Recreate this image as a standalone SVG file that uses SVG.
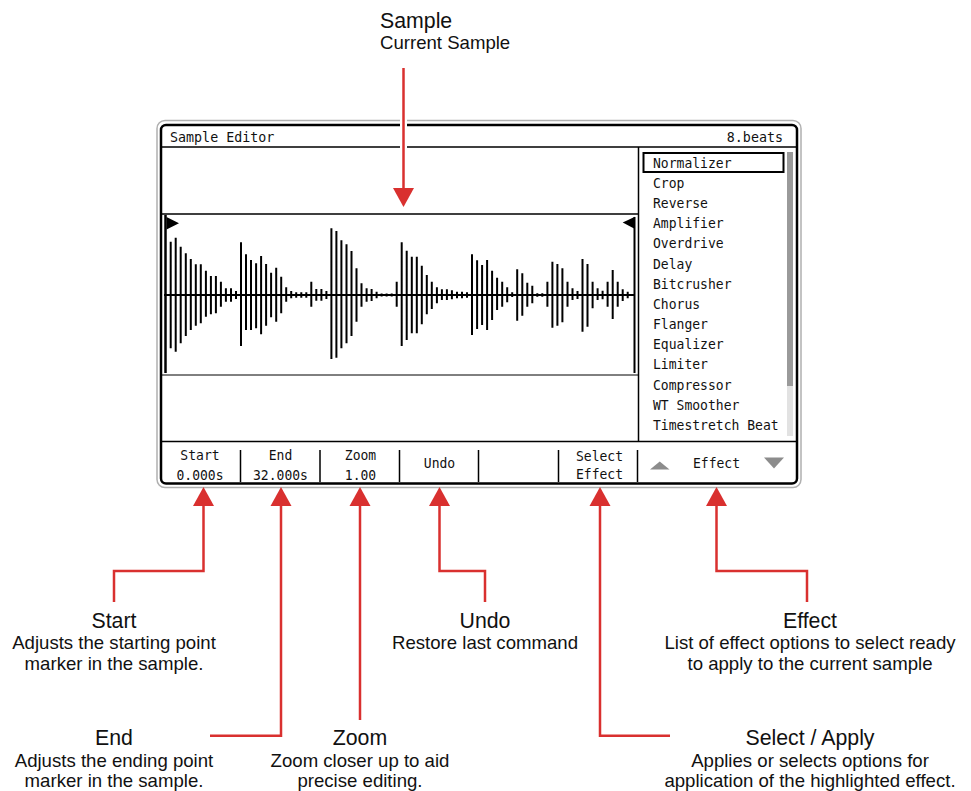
<svg xmlns="http://www.w3.org/2000/svg" width="971" height="791" viewBox="0 0 971 791">
<style>
.mono{font-family:"DejaVu Sans Mono","Liberation Mono",monospace;font-size:14.5px;fill:#111}
.mc{text-anchor:middle}
.h{font-family:"Liberation Sans",Arial,sans-serif;font-size:21.3px;fill:#111;text-anchor:middle}
.s{font-family:"Liberation Sans",Arial,sans-serif;font-size:18.6px;fill:#111;text-anchor:middle}
.ln{stroke:#000;fill:none}
.red{stroke:#d9302f;stroke-width:2.5;fill:none}
.head{fill:#d9302f}
.tri{fill:#8c8c8c}
</style>
<defs>
<polygon id="ah" points="-10.5,0 10.5,0 0,-19" class="head"/>
</defs>
<rect width="971" height="791" fill="#fff"/>
<g id="screen">
<rect x="157" y="120.5" width="644" height="367" rx="8" fill="#fff" stroke="#b0b0b0" stroke-width="1.5"/>
<rect x="161" y="125" width="636" height="358.5" rx="5" fill="none" stroke="#000" stroke-width="2.5"/>
<path class="ln" stroke-width="1.5" d="M161 147H797M638.5 147V441.5M161 214H638M161 441.5H797M240.5 450V482M320 450V482M399.5 450V482M478.5 450V482M558.5 450V482M637.5 450V482"/>
<path class="ln" stroke="#666" stroke-width="1" d="M161 375H638"/>
<g transform="translate(170,0) scale(0.92,1)"><text class="mono" x="0" y="142">Sample Editor</text></g>
<g transform="translate(783,0) scale(0.92,1)"><text class="mono" x="0" y="142" text-anchor="end">8.beats</text></g>
</g>
<g id="waveform">
<path class="ln" stroke-width="2.5" d="M165.5 215V373"/>
<path class="ln" stroke-width="2" d="M634.5 217V373M164 295H635"/>
<polygon points="166.5,217 179,223.3 166.5,229.5" fill="#000"/>
<polygon points="622.7,222.5 635,216.7 635,229" fill="#000"/>
<path class="ln" stroke-width="2" d="M170.7 241.7V348.3M175.7 237.7V351.7M180.7 246.7V343.3M185.8 253.3V336M190.8 259V330M195.8 264.3V325.7M200.8 264.3V323.3M205.9 270.7V316.7M210.9 276V314.3M215.9 276V313.3M220.9 281.7V306.7M225.9 288.3V301.7M231 288.3V301.7M236 291V299M241 242.3V346M246 254.3V330M251 260V330M256.1 263.3V328.3M261.1 256V334.3M266.1 264V325.7M271.1 272.7V317.3M276.2 267.7V321.7M281.2 276.7V313.3M286.2 287.3V301.7M291.2 291V298.3M296.2 292.3V297.7M301.3 292.3V297.7M306.3 292.3V297.7M311.3 281.7V306.7M316.3 289V300.7M321.4 289V300.7M326.4 291V299M331.4 228.3V359M336.4 231V357.7M341.4 240.3V348.3M346.5 244.3V343.3M351.5 251V336M356.5 268.3V321.7M361.5 283.3V306.7M366.6 288.3V301.7M371.6 289V301M376.6 291.7V298.3M381.6 293.5V296.5M386.6 293.5V296.5M391.7 293.5V296.5M396.7 281.7V306.7M401.7 242.3V346M406.7 250.7V340M411.8 256.7V333.3M416.8 256.7V333.3M421.8 265.7V324.3M426.8 275V314.3M431.8 281.7V309M436.9 287.3V303.3M441.9 289.3V300M446.9 289.3V300M451.9 290.3V299.3M457 291.7V298.3M462 291.7V298.3M467 292.3V297.7M472 254.3V335M477.1 260.3V329M482.1 265V325M487.1 260V330M492.1 270.7V320M497.1 277.7V310M502.2 281.7V306.7M507.2 287.3V302.3M512.2 292.3V297M517.2 269.3V320.7M522.3 273.3V315.7M527.3 282.7V306.7M532.3 285.7V303.3M537.3 293.3V296.7M542.3 293.3V296.7M547.4 281.7V306.7M552.4 261.7V327.7M557.4 264V325.7M562.4 268.3V322.3M567.5 281.7V306.7M572.5 288.3V300M577.5 291V299M582.5 259V331.7M587.5 264V326.7M592.6 281.7V308.3M597.6 288.3V300M602.6 290.7V299.3M607.6 281.7V306.7M612.7 270V319M617.7 281.7V306.7M622.7 289.3V301M627.7 291.7V298.3"/>
</g>
<g id="effect-list">
<rect x="787" y="152" width="6" height="234" fill="#9a9a9a"/>
<rect x="787" y="386" width="6" height="50" fill="#e2e2e2"/>
<rect x="643.5" y="153" width="140" height="19" fill="none" stroke="#000" stroke-width="2"/>
<g transform="translate(653,0) scale(0.9,1)">
<text class="mono" x="0" y="167.7">Normalizer</text>
<text class="mono" x="0" y="187.9">Crop</text>
<text class="mono" x="0" y="208.1">Reverse</text>
<text class="mono" x="0" y="228.2">Amplifier</text>
<text class="mono" x="0" y="248.4">Overdrive</text>
<text class="mono" x="0" y="268.6">Delay</text>
<text class="mono" x="0" y="288.8">Bitcrusher</text>
<text class="mono" x="0" y="309">Chorus</text>
<text class="mono" x="0" y="329.1">Flanger</text>
<text class="mono" x="0" y="349.3">Equalizer</text>
<text class="mono" x="0" y="369.5">Limiter</text>
<text class="mono" x="0" y="389.7">Compressor</text>
<text class="mono" x="0" y="409.9">WT Smoother</text>
<text class="mono" x="0" y="430">Timestretch Beat</text>
</g>
</g>
<g id="buttons">
<g transform="translate(200,0) scale(0.9,1)"><text class="mono mc" x="0" y="460.5">Start</text><text class="mono mc" x="0" y="480">0.000s</text></g>
<g transform="translate(280.5,0) scale(0.9,1)"><text class="mono mc" x="0" y="460.5">End</text><text class="mono mc" x="0" y="480">32.000s</text></g>
<g transform="translate(360.5,0) scale(0.9,1)"><text class="mono mc" x="0" y="460.5">Zoom</text><text class="mono mc" x="0" y="480">1.00</text></g>
<g transform="translate(439.5,0) scale(0.9,1)"><text class="mono mc" x="0" y="468">Undo</text></g>
<g transform="translate(599.5,0) scale(0.9,1)"><text class="mono mc" x="0" y="461.5">Select</text><text class="mono mc" x="0" y="479.5">Effect</text></g>
<g transform="translate(716.5,0) scale(0.9,1)"><text class="mono mc" x="0" y="468">Effect</text></g>
<polygon class="tri" points="650,469.5 669.5,469.5 659.75,461.5"/>
<polygon class="tri" points="764,457.5 784,457.5 774,468.5"/>
</g>
<g id="connectors">
<path d="M403.5 68V190" stroke="#fff" stroke-width="7" fill="none"/>
<path class="red" d="M403.5 68V190"/>
<polygon class="head" points="393,188 414,188 403.5,207"/>
<path class="red" d="M203.5 504V571H114V602"/>
<use href="#ah" x="203.5" y="506"/>
<path class="red" d="M281 504V735.7H210"/>
<use href="#ah" x="281" y="506"/>
<path class="red" d="M360 504V720"/>
<use href="#ah" x="360" y="506"/>
<path class="red" d="M439.5 504V571H485V602"/>
<use href="#ah" x="439.5" y="506"/>
<path class="red" d="M600 504V735.7H670"/>
<use href="#ah" x="600" y="506"/>
<path class="red" d="M716.5 504V571H807V602"/>
<use href="#ah" x="716.5" y="506"/>
</g>
<g id="label-sample">
<text class="h" x="380" y="27.7" style="text-anchor:start">Sample</text>
<text class="s" x="380" y="49.3" style="text-anchor:start">Current Sample</text>
</g>
<g id="label-start">
<text class="h" x="114" y="628">Start</text>
<text class="s" x="114" y="649.3">Adjusts the starting point</text>
<text class="s" x="114" y="670">marker in the sample.</text>
</g>
<g id="label-undo">
<text class="h" x="485" y="628">Undo</text>
<text class="s" x="485" y="649.3">Restore last command</text>
</g>
<g id="label-effect">
<text class="h" x="810" y="628">Effect</text>
<text class="s" x="810" y="649.3">List of effect options to select ready</text>
<text class="s" x="810" y="670">to apply to the current sample</text>
</g>
<g id="label-end">
<text class="h" x="114" y="745">End</text>
<text class="s" x="114" y="766.5">Adjusts the ending point</text>
<text class="s" x="114" y="787">marker in the sample.</text>
</g>
<g id="label-zoom">
<text class="h" x="360" y="745">Zoom</text>
<text class="s" x="360" y="766.5">Zoom closer up to aid</text>
<text class="s" x="360" y="787">precise editing.</text>
</g>
<g id="label-select">
<text class="h" x="810" y="745">Select / Apply</text>
<text class="s" x="810" y="766.5">Applies or selects options for</text>
<text class="s" x="810" y="787">application of the highlighted effect.</text>
</g>
</svg>
